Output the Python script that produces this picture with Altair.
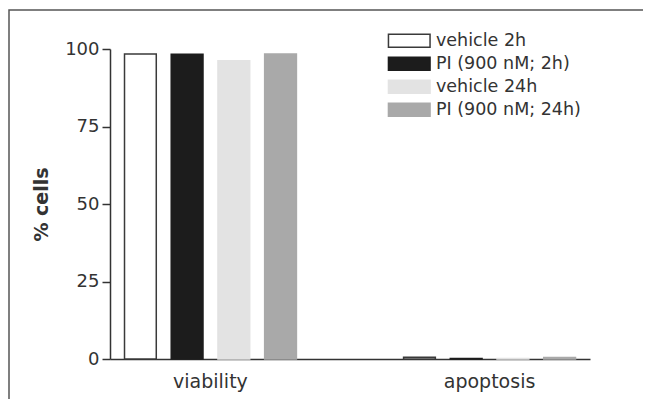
import altair as alt
import pandas as pd

groups = ["viability", "apoptosis"]
series = ["vehicle 2h", "PI (900 nM; 2h)", "vehicle 24h", "PI (900 nM; 24h)"]
viability = [98.4, 98.3, 96.2, 98.4]
apoptosis = [0.6, 0.2, 0.2, 0.5]
fills = ["#ffffff", "#1c1c1c", "#e3e3e3", "#a9a9a9"]
strokes = ["#3a3a3a", "#1c1c1c", "#e3e3e3", "#a9a9a9"]
y_ticks = [0, 25, 50, 75, 100]

rows = []
for g, vals in zip(groups, [viability, apoptosis]):
    for s, v in zip(series, vals):
        rows.append({"group": g, "series": s, "value": v})
df = pd.DataFrame(rows)

FONT = "DejaVu Sans"

legend_kw = dict(title=None, orient="none", legendX=290.5, legendY=-17,
                 symbolType="M-3.2,-1H3.2V1H-3.2Z", symbolSize=169,
                 symbolStrokeWidth=1.5, labelFontSize=17.5,
                 labelFont=FONT, labelColor="#333333",
                 labelOffset=18, rowPadding=3)

bars = alt.Chart(df).mark_bar(strokeWidth=1.5).encode(
    x=alt.X("group:N", sort=groups,
            scale=alt.Scale(paddingInner=0.384, paddingOuter=0.052),
            axis=alt.Axis(title=None, labelAngle=0, ticks=False, labelPadding=13,
                          labelFontSize=19, labelColor="#333333", labelFont=FONT,
                          domainColor="#333333", domainWidth=1.5)),
    xOffset=alt.XOffset("series:N", sort=series,
                        scale=alt.Scale(paddingInner=0.32, paddingOuter=0)),
    y=alt.Y("value:Q", scale=alt.Scale(domain=[0, 100], nice=False),
            axis=alt.Axis(title="% cells", values=y_ticks, grid=False,
                          tickSize=8, tickColor="#333333", tickWidth=1.5,
                          domainColor="#333333", domainWidth=1.5,
                          labelFontSize=18, labelColor="#333333", labelFont=FONT,
                          labelPadding=3, titleFontSize=19, titleFont=FONT,
                          titleFontWeight="bold", titleColor="#333333",
                          titlePadding=13)),
    color=alt.Color("series:N", sort=series,
                    scale=alt.Scale(domain=series, range=fills),
                    legend=alt.Legend(**legend_kw)),
    stroke=alt.Stroke("series:N", sort=series,
                      scale=alt.Scale(domain=series, range=strokes),
                      legend=alt.Legend(**legend_kw)),
)

frame = alt.Chart(alt.Data(values=[{"k": 1}])).mark_rect(
    fill="transparent", stroke="#555555", strokeWidth=1.5
).encode(
    x=alt.value(-101), x2=alt.value(800), y=alt.value(-39), y2=alt.value(600)
)

chart = alt.layer(bars, frame).properties(
    width=480, height=310,
    autosize=alt.AutoSizeParams(type="none"),
    padding={"left": 102, "top": 41, "right": 53, "bottom": 40},
    background="#ffffff",
).configure_view(stroke=None)

chart.save("out.html", embed_options={"renderer": "svg", "actions": False})
